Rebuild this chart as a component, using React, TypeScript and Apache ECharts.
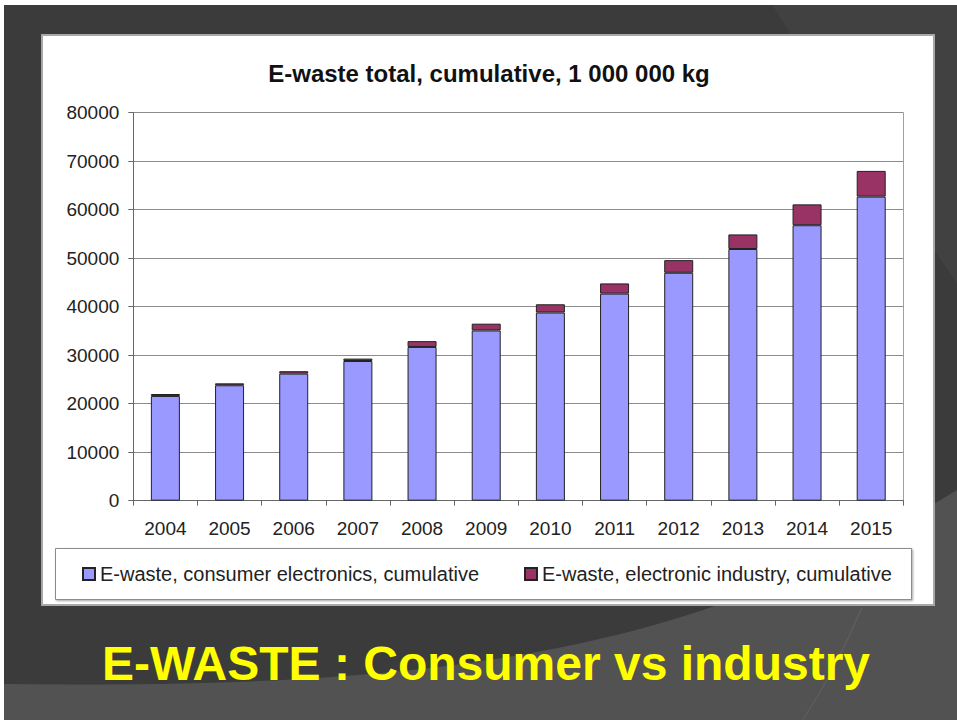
import React, { useEffect, useRef } from "react";
import * as echarts from "echarts";

const categories = ["2004", "2005", "2006", "2007", "2008", "2009", "2010", "2011", "2012", "2013", "2014", "2015"];
const consumerValues = [21600, 23800, 26200, 28800, 31700, 35100, 38800, 42700, 47000, 51900, 56800, 62700];
const industryValues = [400, 400, 500, 500, 1200, 1400, 1700, 2100, 2600, 3000, 4300, 5300];
const consumerName = "E-waste, consumer electronics, cumulative";
const industryName = "E-waste, electronic industry, cumulative";
const chartTitle = "E-waste total, cumulative, 1 000 000 kg";
const slideTitle = "E-WASTE : Consumer vs industry";

const FONT = '"Liberation Sans", Arial, sans-serif';

function bezierPoints(p0: number[], p1: number[], p2: number[], p3: number[], n: number) {
  const pts: number[][] = [];
  for (let i = 0; i <= n; i++) {
    const t = i / n;
    const a = (1 - t) ** 3, b = 3 * (1 - t) ** 2 * t, c = 3 * (1 - t) * t * t, d = t ** 3;
    pts.push([a * p0[0] + b * p1[0] + c * p2[0] + d * p3[0], a * p0[1] + b * p1[1] + c * p2[1] + d * p3[1]]);
  }
  return pts;
}

export default function App() {
  const ref = useRef<HTMLDivElement>(null);
  useEffect(() => {
    document.body.style.margin = "0";
    if (!ref.current) return;
    const chart = echarts.init(ref.current, null, { renderer: "svg" });
    const swoosh = bezierPoints([4, 684], [450, 690], [700, 650], [957, 490], 40);
    swoosh.push([957, 720], [4, 720]);
    const option: any = {
      animation: false,
      backgroundColor: "#ffffff",
      title: {
        text: chartTitle,
        left: 484,
        top: 56,
        textAlign: "center",
        textStyle: { fontFamily: FONT, fontSize: 24, fontWeight: "bold", color: "#111111" },
      },
      graphic: [
        { type: "rect", z: -20, shape: { x: 4, y: 5, width: 953, height: 715 }, style: { fill: "#3b3b3b" } },
        { type: "polygon", z: -19, shape: { points: [[772, 5], [957, 5], [957, 284]] }, style: { fill: "#414141" } },
        { type: "polygon", z: -19, shape: { points: swoosh }, style: { fill: "#525252" } },
        {
          type: "bezierCurve", z: -18,
          shape: { x1: 862, y1: 607, x2: 803, y2: 720, cpx1: 838, cpy1: 665 },
          style: { stroke: "#626262", lineWidth: 1, fill: null },
        },
        {
          type: "rect", z: -15,
          shape: { x: 42, y: 35, width: 892, height: 570 },
          style: { fill: "#ffffff", stroke: "#a8a8a8", lineWidth: 2 },
        },
        {
          type: "rect", z: -14,
          shape: { x: 55.5, y: 548.5, width: 856, height: 51 },
          style: {
            fill: "#ffffff", stroke: "#8c8c8c", lineWidth: 1,
            shadowColor: "rgba(0,0,0,0.35)", shadowBlur: 2, shadowOffsetX: 1, shadowOffsetY: 1,
          },
        },
        {
          type: "text", z: 10,
          x: 486, y: 663,
          style: {
            text: slideTitle,
            fill: "#ffff00",
            font: `bold 48px ${FONT}`,
            textAlign: "center",
            textVerticalAlign: "middle",
          },
        },
      ],
      legend: [
        {
          data: [consumerName], left: 77, top: 559, itemWidth: 12, itemHeight: 12, itemGap: 0,
          icon: "rect",
          textStyle: { fontFamily: FONT, fontSize: 20, color: "#222222" },
        },
        {
          data: [industryName], left: 519, top: 559, itemWidth: 12, itemHeight: 12, itemGap: 0,
          icon: "rect",
          textStyle: { fontFamily: FONT, fontSize: 20, color: "#222222" },
        },
      ],
      grid: { left: 133.3, right: 53.7, top: 112.7, bottom: 219.3, containLabel: false },
      xAxis: {
        type: "category",
        data: categories,
        boundaryGap: true,
        axisLine: { show: true, lineStyle: { color: "#666666", width: 1 } },
        axisTick: { show: true, interval: 0, length: 5, lineStyle: { color: "#666666" } },
        axisLabel: { interval: 0, margin: 18, fontFamily: FONT, fontSize: 19, color: "#222222" },
        splitLine: { show: false },
      },
      yAxis: [
        {
          type: "value",
          min: 0,
          max: 80000,
          interval: 10000,
          axisLine: { show: true, lineStyle: { color: "#666666", width: 1 } },
          axisTick: { show: true, length: 5, lineStyle: { color: "#666666" } },
          axisLabel: {
            margin: 14, fontFamily: FONT, fontSize: 19, color: "#222222",
            formatter: (v: number) => String(v),
          },
          splitLine: { show: true, lineStyle: { color: "#8c8c8c", width: 1 } },
        },
        {
          type: "value",
          position: "right",
          min: 0,
          max: 80000,
          interval: 10000,
          axisLine: { show: true, lineStyle: { color: "#a0a0a0", width: 1 } },
          axisTick: { show: false },
          axisLabel: { show: false },
          splitLine: { show: false },
        },
      ],
      series: [
        {
          name: consumerName,
          type: "bar",
          stack: "total",
          data: consumerValues,
          barWidth: 29,
          itemStyle: { color: "#9999ff", borderColor: "#222222", borderWidth: 1 },
        },
        {
          name: industryName,
          type: "bar",
          stack: "total",
          data: industryValues,
          barWidth: 29,
          itemStyle: { color: "#993366", borderColor: "#222222", borderWidth: 1 },
        },
      ],
    };
    chart.setOption(option);
    return () => chart.dispose();
  }, []);
  return <div ref={ref} style={{ position: "absolute", left: 0, top: 0, width: 957, height: 720 }} />;
}
